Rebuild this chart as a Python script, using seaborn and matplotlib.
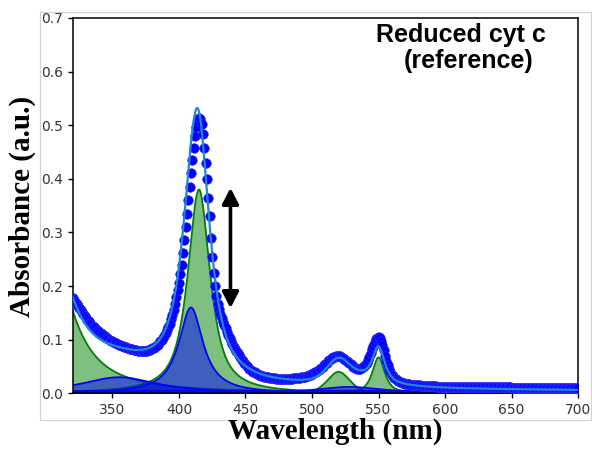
import numpy as np
import pandas as pd
import matplotlib
matplotlib.use("Agg")
import matplotlib.pyplot as plt
from matplotlib.patches import FancyArrowPatch, Rectangle
import seaborn as sns

# ---- measured spectrum (1 nm steps, 320-700 nm) ----
wl_start, wl_stop = 320, 700
absorbance = [
    # 320-329
    0.178, 0.174, 0.170, 0.166, 0.163, 0.160, 0.156, 0.152, 0.148, 0.144,
    # 330-339
    0.140, 0.137, 0.134, 0.131, 0.128, 0.126, 0.123, 0.121, 0.118, 0.116,
    # 340-349
    0.114, 0.112, 0.110, 0.108, 0.106, 0.104, 0.103, 0.101, 0.100, 0.098,
    # 350-359
    0.097, 0.096, 0.094, 0.093, 0.092, 0.091, 0.090, 0.089, 0.088, 0.087,
    # 360-369
    0.086, 0.085, 0.084, 0.083, 0.083, 0.082, 0.081, 0.080, 0.080, 0.079,
    # 370-379
    0.079, 0.078, 0.078, 0.078, 0.078, 0.079, 0.079, 0.080, 0.081, 0.082,
    # 380-389
    0.084, 0.085, 0.087, 0.089, 0.091, 0.094, 0.097, 0.100, 0.103, 0.107,
    # 390-399
    0.112, 0.118, 0.124, 0.130, 0.138, 0.146, 0.156, 0.167, 0.180, 0.192,
    # 400-409
    0.205, 0.222, 0.240, 0.262, 0.285, 0.310, 0.335, 0.360, 0.385, 0.410,
    # 410-419
    0.435, 0.458, 0.480, 0.497, 0.508, 0.514, 0.512, 0.502, 0.484, 0.458,
    # 420-429
    0.430, 0.400, 0.365, 0.330, 0.290, 0.255, 0.225, 0.200, 0.182, 0.167,
    # 430-439
    0.157, 0.148, 0.140, 0.133, 0.127, 0.121, 0.115, 0.109, 0.103, 0.097,
    # 440-449
    0.092, 0.087, 0.083, 0.079, 0.075, 0.071, 0.067, 0.063, 0.060, 0.057,
    # 450-459
    0.054, 0.051, 0.049, 0.046, 0.044, 0.042, 0.040, 0.039, 0.037, 0.036,
    # 460-469
    0.035, 0.034, 0.033, 0.032, 0.031, 0.031, 0.030, 0.030, 0.029, 0.029,
    # 470-479
    0.028, 0.028, 0.028, 0.027, 0.027, 0.027, 0.027, 0.027, 0.027, 0.027,
    # 480-489
    0.027, 0.027, 0.027, 0.027, 0.027, 0.027, 0.028, 0.028, 0.028, 0.028,
    # 490-499
    0.029, 0.029, 0.030, 0.030, 0.031, 0.031, 0.032, 0.033, 0.034, 0.035,
    # 500-509
    0.036, 0.037, 0.039, 0.040, 0.042, 0.044, 0.046, 0.048, 0.050, 0.052,
    # 510-519
    0.055, 0.057, 0.060, 0.062, 0.064, 0.066, 0.067, 0.068, 0.069, 0.069,
    # 520-529
    0.069, 0.069, 0.068, 0.066, 0.064, 0.062, 0.060, 0.058, 0.056, 0.054,
    # 530-539
    0.052, 0.050, 0.048, 0.047, 0.046, 0.046, 0.046, 0.047, 0.049, 0.051,
    # 540-549
    0.053, 0.057, 0.062, 0.068, 0.075, 0.082, 0.089, 0.096, 0.101, 0.104,
    # 550-559
    0.105, 0.103, 0.098, 0.090, 0.080, 0.070, 0.060, 0.052, 0.045, 0.040,
    # 560-569
    0.035, 0.032, 0.029, 0.027, 0.025, 0.023, 0.022, 0.021, 0.020, 0.019,
    # 570-579
    0.018, 0.018, 0.017, 0.017, 0.016, 0.016, 0.016, 0.015, 0.015, 0.015,
    # 580-589
    0.015, 0.015, 0.014, 0.014, 0.014, 0.014, 0.014, 0.013, 0.013, 0.013,
    # 590-599
    0.013, 0.013, 0.013, 0.013, 0.012, 0.012, 0.012, 0.012, 0.012, 0.012,
    # 600-609
    0.012, 0.012, 0.012, 0.012, 0.011, 0.011, 0.011, 0.011, 0.011, 0.011,
    # 610-619
    0.011, 0.011, 0.011, 0.011, 0.011, 0.011, 0.011, 0.011, 0.011, 0.011,
    # 620-629
    0.011, 0.011, 0.011, 0.011, 0.011, 0.011, 0.011, 0.011, 0.011, 0.011,
    # 630-639
    0.011, 0.011, 0.011, 0.011, 0.011, 0.011, 0.011, 0.011, 0.011, 0.011,
    # 640-649
    0.011, 0.011, 0.011, 0.011, 0.011, 0.011, 0.011, 0.011, 0.011, 0.011,
    # 650-659
    0.010, 0.010, 0.010, 0.010, 0.010, 0.010, 0.010, 0.010, 0.010, 0.010,
    # 660-669
    0.010, 0.010, 0.010, 0.010, 0.010, 0.010, 0.010, 0.010, 0.010, 0.010,
    # 670-679
    0.010, 0.010, 0.010, 0.010, 0.010, 0.010, 0.010, 0.010, 0.010, 0.010,
    # 680-689
    0.009, 0.009, 0.009, 0.009, 0.009, 0.009, 0.009, 0.009, 0.009, 0.009,
    # 690-700
    0.009, 0.009, 0.009, 0.009, 0.009, 0.009, 0.009, 0.009, 0.009, 0.009, 0.009,
]

# ---- fitted band components (pseudo-Voigt: centre, height, HWHM, Lorentz fraction) ----
green_centers = [300.0, 415.0, 520.0, 550.0, 538.0]
green_heights = [0.310, 0.380, 0.040, 0.067, 0.005]
green_hwhm    = [20.0, 10.0, 10.0, 5.5, 8.0]
green_eta     = [1.0, 0.85, 0.3, 0.8, 0.5]

blue_centers = [355.0, 409.0, 528.0, 510.0]
blue_heights = [0.030, 0.160, 0.012, 0.005]
blue_hwhm    = [35.0, 11.0, 30.0, 400.0]
blue_eta     = [1.0, 1.0, 1.0, 0.0]

x_ticks = [350, 400, 450, 500, 550, 600, 650, 700]
y_ticks = [0.0, 0.1, 0.2, 0.3, 0.4, 0.5, 0.6, 0.7]


def pseudo_voigt(x, c, h, w, eta):
    d2 = ((x - c) / w) ** 2
    return h * (eta / (1.0 + d2) + (1.0 - eta) * np.exp(-np.log(2.0) * d2))


wavelength = np.arange(wl_start, wl_stop + 1)
spectrum = pd.DataFrame({"wavelength": wavelength, "absorbance": absorbance})

grid = np.linspace(wl_start, wl_stop, 1521)
green_curves = [pseudo_voigt(grid, c, h, w, e)
                for c, h, w, e in zip(green_centers, green_heights, green_hwhm, green_eta)]
blue_curves = [pseudo_voigt(grid, c, h, w, e)
               for c, h, w, e in zip(blue_centers, blue_heights, blue_hwhm, blue_eta)]
fit_total = np.sum(green_curves, axis=0) + np.sum(blue_curves, axis=0)
fit = pd.DataFrame({"wavelength": grid, "absorbance": fit_total})

sns.set_style("ticks")
plt.rcParams["font.family"] = ["DejaVu Sans"]

fig = plt.figure(figsize=(5.92, 4.49), dpi=100)
ax = fig.add_axes([0.1226, 0.124, 0.8538, 0.836])

# component bands
for yc in green_curves:
    ax.fill_between(grid, 0, yc, color="green", alpha=0.5, linewidth=0, zorder=1)
    sns.lineplot(x=grid, y=yc, color="green", linewidth=1.3, ax=ax, zorder=1.5)
for yc in blue_curves:
    ax.fill_between(grid, 0, yc, color="blue", alpha=0.5, linewidth=0, zorder=2)
    sns.lineplot(x=grid, y=yc, color="blue", linewidth=1.3, ax=ax, zorder=2.5)

# measured points and total fit
sns.scatterplot(data=spectrum, x="wavelength", y="absorbance", color="blue",
                s=48, edgecolor="#3030ff", linewidth=0.4, ax=ax, zorder=3)
sns.lineplot(data=fit, x="wavelength", y="absorbance", color="#2586c6",
             linewidth=1.6, ax=ax, zorder=4)

ax.set_xlim(wl_start, wl_stop)
ax.set_ylim(0, 0.7)
ax.set_xticks(x_ticks)
ax.set_yticks(y_ticks)
ax.set_yticklabels([f"{v:.1f}" for v in y_ticks])
ax.set_xlabel("")
ax.set_ylabel("")
ax.tick_params(labelsize=10, labelcolor="#333333", length=3.5, width=1, color="black")
for sp in ax.spines.values():
    sp.set_color("black")
    sp.set_linewidth(1.1)

# Soret intensity change
arrow = FancyArrowPatch((438.7, 0.159), (438.7, 0.383),
                        arrowstyle="<|-|>,head_length=0.48,head_width=0.25",
                        mutation_scale=20, lw=2.6, color="black",
                        shrinkA=0, shrinkB=0, zorder=6)
ax.add_patch(arrow)

# panel frame
fig.patches.append(Rectangle((40 / 592, 1 - 420 / 449), 551 / 592, 408 / 449,
                             transform=fig.transFigure, fill=False,
                             edgecolor="#d4d4d4", linewidth=0.9, zorder=0))

serif = ["Liberation Serif", "DejaVu Serif"]
fig.text(22 / 592, 1 - 206 / 449, "Absorbance (a.u.)", rotation=90, color="black",
         ha="center", va="center", fontsize=21, fontweight="bold", family=serif)
fig.text(335 / 592, 1 - 431 / 449, "Wavelength (nm)", color="black",
         ha="center", va="center", fontsize=21, fontweight="bold", family=serif)

sans = ["Liberation Sans", "DejaVu Sans"]
fig.text(461 / 592, 1 - 35 / 449, "Reduced cyt c", ha="center", va="center",
         color="black", fontsize=18, fontweight="bold", family=sans)
fig.text(469 / 592, 1 - 61 / 449, "(reference)", ha="center", va="center",
         color="black", fontsize=18, fontweight="bold", family=sans)

fig.savefig("out.png", dpi=100)
